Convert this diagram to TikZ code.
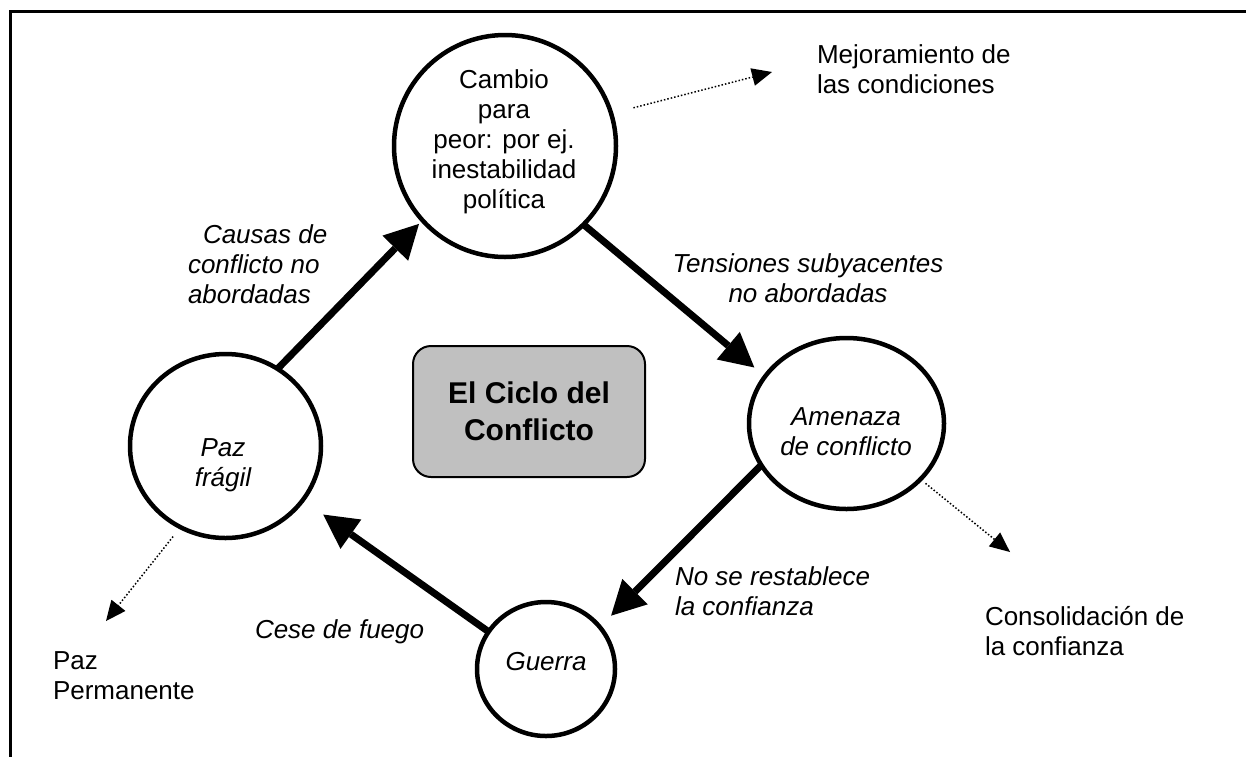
\documentclass[tikz,border=0pt]{standalone}
\usepackage{fontspec}
\setmainfont{Liberation Sans}
\usetikzlibrary{arrows.meta,shapes.geometric}
\definecolor{boxgray}{RGB}{192,192,192}
\begin{document}
\begin{tikzpicture}[x=1pt,y=-1pt,
  txt/.style={font=\fontsize{26}{30}\selectfont, inner sep=0pt, outer sep=0pt},
  itl/.style={font={\fontsize{26}{30}\selectfont\itshape}, inner sep=0pt, outer sep=0pt},
  circ/.style={ellipse, draw, line width=4.5pt, inner sep=0pt, outer sep=0pt},
  bigarrow/.style={line width=7pt, -{Triangle[length=34pt,width=36pt,line width=0pt]}},
  dotarrow/.style={line width=1.5pt, dash pattern=on 1.5pt off 2pt, -{Triangle[length=20pt,width=18pt,line width=0pt]}},
  titlebox/.style={draw, line width=2pt, fill=boxgray, rounded corners=18pt, inner sep=0pt, outer sep=0pt,
    font={\fontsize{30}{37}\selectfont\bfseries}, align=center}
]
\path[use as bounding box] (0,0) rectangle (1246,756);
% frame
\draw[line width=3pt] (10.3,757) -- (10.3,11) -- (1247,11);

% cycle nodes
\node[circ, minimum width=222pt, minimum height=222pt] (cambio) at (505,146) {};
\node[circ, minimum width=195pt, minimum height=171pt] (amen) at (846.5,423.5) {};
\node[circ, minimum width=191pt, minimum height=184pt] (paz) at (225.5,446) {};
\node[circ, minimum width=138pt, minimum height=134pt] (guerra) at (546,669) {};

% texts inside the circles (anchor base = baseline of the last line)
\node[txt, anchor=base, align=center] (cambiotxt) at (504,208) {Cambio\\para\\peor: por ej.\\inestabilidad\\política};
\node[itl, anchor=base, align=center] (amentxt) at (846,455) {Amenaza\\de conflicto};
\node[itl, anchor=base, align=center] (paztxt) at (223,486) {Paz\\frágil};
\node[itl, anchor=base] (guerratxt) at (546,670) {Guerra};

% title
\node[titlebox, minimum width=232pt, minimum height=131pt] (title) at (529,411.5) {El Ciclo del\\Conflicto};

% main cycle arrows
\draw[bigarrow, shorten >=5pt] (paz.56.6) -- (cambio.222.8);
\draw[bigarrow, shorten >=14pt] (cambio.-45) -- (amen.150.5);
\draw[bigarrow, shorten >=16pt] (amen.206.2) -- (guerra.38.2);
\draw[bigarrow, shorten >=25pt] (guerra.147.9) -- (paz.-35.3);

% outward dotted arrows
\coordinate (mejtip) at (772,72);
\coordinate (contip) at (1010,552);
\coordinate (pptip) at (106,621);
\draw[dotarrow, shorten <=23pt] (cambio.17) -- (mejtip);
\draw[dotarrow, shorten <=6.5pt] (amen.-37.6) -- (contip);
\draw[dotarrow, shorten <=12pt] (paz.241.2) -- (pptip);

% outcome labels
\node[txt, anchor=base west, align=left] (mej) at (817,93) {Mejoramiento de\\las condiciones};
\node[txt, anchor=base west, align=left] (cons) at (985,655) {Consolidación de\\la confianza};
\node[txt, anchor=base west, align=left] (pperm) at (53,699) {Paz\\Permanente};

% arrow labels
\node[itl, anchor=base west, align=left] (causas) at (188,303) {\hspace*{15pt}Causas de\\conflicto no\\abordadas};
\node[itl, anchor=base, align=center] (tens) at (808,302) {Tensiones subyacentes\\no abordadas};
\node[itl, anchor=base west, align=left] (nose) at (675,615) {No se restablece\\la confianza};
\node[itl, anchor=base west] (cese) at (255,638) {Cese de fuego};
\end{tikzpicture}
\end{document}
